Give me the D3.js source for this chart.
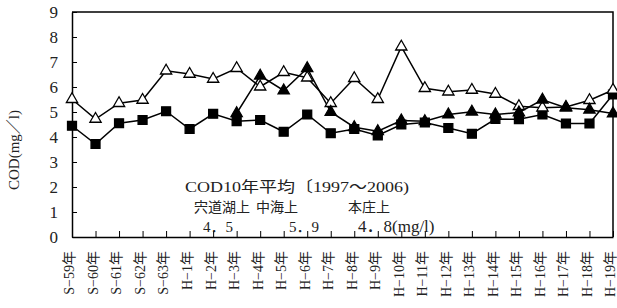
<!DOCTYPE html>
<html>
<head>
<meta charset="utf-8">
<script src="https://cdn.jsdelivr.net/npm/d3@7"></script>
<style>
  html, body { margin: 0; padding: 0; background: #fff; }
  svg { display: block; }
  text { font-family: "Liberation Serif", "DejaVu Serif", "Noto Sans CJK JP", serif; fill: #222; }
</style>
</head>
<body>
<svg width="617" height="308"></svg>
<script>
// Years on the x axis (Showa 59 .. Heisei 19)
const years = ['S−59年','S−60年','S−61年','S−62年','S−63年',
  'H−1年','H−2年','H−3年','H−4年','H−5年','H−6年','H−7年','H−8年','H−9年','H−10年',
  'H−11年','H−12年','H−13年','H−14年','H−15年','H−16年','H−17年','H−18年','H−19年'];

// 宍道湖上 (filled squares)
const shinjiko = [4.45, 3.72, 4.55, 4.68, 5.03, 4.32, 4.93, 4.63, 4.68, 4.21, 4.9, 4.15,
  4.32, 4.06, 4.5, 4.58, 4.36, 4.13, 4.72, 4.71, 4.9, 4.54, 4.54, 5.7];
// 中海上 (open triangles)
const nakaumi = [5.51, 4.72, 5.35, 5.48, 6.65, 6.52, 6.32, 6.75, 6.01, 6.59, 6.37, 5.35,
  6.35, 5.51, 7.61, 5.95, 5.81, 5.88, 5.72, 5.23, 5.17, 5.2, 5.47, 5.88];
// 本庄上 (filled triangles), measured from H-3
const honjo = [null, null, null, null, null, null, null, 4.95, 6.45, 5.86, 6.75, 5.0,
  4.39, 4.23, 4.66, 4.63, 4.9, 5.01, 4.9, 4.98, 5.49, 5.17, 5.09, 4.94];

const yTicks = d3.range(0, 10);

const svg = d3.select('svg');
const mLeft = 72, mRight = 613, mTop = 12, mBottom = 237;

const x = d3.scalePoint().domain(years).range([mLeft, mRight]);
const y = d3.scaleLinear().domain([0, 9]).range([mBottom, mTop]);

// frame (top + right)
svg.append('path')
  .attr('d', `M${mLeft},${mTop}H${mRight}V${mBottom}`)
  .attr('fill', 'none').attr('stroke', '#000').attr('stroke-width', 1.5);

// y axis
const gy = svg.append('g').attr('transform', `translate(${mLeft},0)`)
  .call(d3.axisLeft(y).tickValues(yTicks).tickSize(-5).tickSizeOuter(0).tickPadding(14));
gy.select('.domain').attr('stroke-width', 1.5);
gy.selectAll('line').attr('stroke-width', 1);
gy.selectAll('text').attr('font-size', 17).attr('fill', '#222');

// x axis
const gx = svg.append('g').attr('transform', `translate(0,${mBottom})`)
  .call(d3.axisBottom(x).tickSize(-6).tickSizeOuter(0));
gx.select('.domain').attr('stroke-width', 1.5);
gx.selectAll('line').attr('stroke-width', 1);
gx.selectAll('text')
  .attr('font-size', 14).attr('fill', '#222')
  .attr('text-anchor', 'end')
  .attr('transform', 'rotate(-90)')
  .attr('x', -14).attr('y', -3).attr('dy', '0.35em');

// y title
svg.append('text')
  .attr('transform', 'translate(19,150) rotate(-90)')
  .attr('text-anchor', 'middle')
  .attr('font-size', 15)
  .text('COD(mg／l)');

// annotation
const note = svg.append('g').attr('font-size', 15);
note.append('text').attr('x', 185).attr('y', 192).attr('textLength', 224).attr('lengthAdjust', 'spacingAndGlyphs')
  .text('COD10年平均〔1997～2006)');
note.append('text').attr('x', 194).attr('y', 212).attr('font-size', 14).text('宍道湖上');
note.append('text').attr('x', 256).attr('y', 212).attr('font-size', 14).text('中海上');
note.append('text').attr('x', 348).attr('y', 212).attr('font-size', 14).text('本庄上');
note.append('text').attr('x', 203).attr('y', 232).text('4．5');
note.append('text').attr('x', 289).attr('y', 232).text('5．9');
note.append('text').attr('x', 358).attr('y', 232).attr('font-size', 17).text('4．8(mg/l)');

// series
const series = [
  { name: '宍道湖上', values: shinjiko, shape: d3.symbolSquare, size: 80, fill: '#000' },
  { name: '中海上', values: nakaumi, shape: d3.symbolTriangle, size: 55, fill: '#fff' },
  { name: '本庄上', values: honjo, shape: d3.symbolTriangle, size: 55, fill: '#000' }
];

const line = d3.line()
  .defined(d => d.v != null)
  .x(d => x(d.k))
  .y(d => y(d.v));

series.forEach(s => {
  const pts = years.map((k, i) => ({ k, v: s.values[i] }));
  svg.append('path').datum(pts)
    .attr('d', line)
    .attr('fill', 'none').attr('stroke', '#000').attr('stroke-width', 1.5);
});

series.forEach(s => {
  const pts = years.map((k, i) => ({ k, v: s.values[i] })).filter(d => d.v != null);
  svg.append('g').selectAll('path').data(pts).join('path')
    .attr('transform', d => `translate(${x(d.k)},${y(d.v)})`)
    .attr('d', d3.symbol(s.shape, s.size))
    .attr('fill', s.fill).attr('stroke', '#000').attr('stroke-width', 1.3);
});
</script>
</body>
</html>
